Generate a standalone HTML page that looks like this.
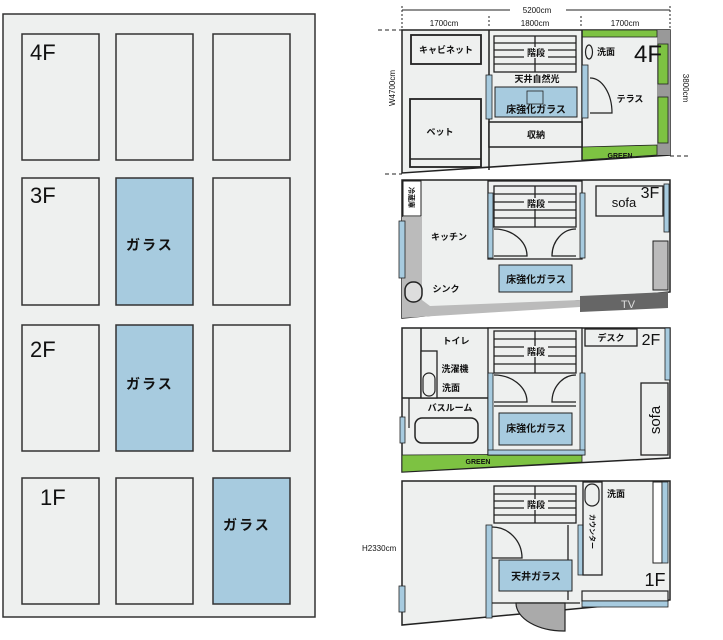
<!DOCTYPE html>
<html><head><meta charset="utf-8"><style>
html,body{margin:0;padding:0;background:#fff;}
svg{display:block;}
text{font-family:"Liberation Sans","Noto Sans CJK JP",sans-serif;fill:#111;}
.j{font-size:9px;font-weight:bold;}
.f{font-size:22px;font-weight:500;}
</style></head><body>
<svg width="723" height="640" viewBox="0 0 723 640" xmlns="http://www.w3.org/2000/svg">
<!-- LEFT PANEL -->
<rect x="3" y="14" width="312" height="603" fill="#eef0ef" stroke="#333" stroke-width="1.5"/>
<g stroke="#333" stroke-width="1.5" fill="#eef0ef">
<rect x="22" y="34" width="77" height="126"/><rect x="116" y="34" width="77" height="126"/><rect x="213" y="34" width="77" height="126"/>
<rect x="22" y="178" width="77" height="127"/><rect x="116" y="178" width="77" height="127" fill="#a7cbdf"/><rect x="213" y="178" width="77" height="127"/>
<rect x="22" y="325" width="77" height="126"/><rect x="116" y="325" width="77" height="126" fill="#a7cbdf"/><rect x="213" y="325" width="77" height="126"/>
<rect x="22" y="478" width="77" height="126"/><rect x="116" y="478" width="77" height="126"/><rect x="213" y="478" width="77" height="126" fill="#a7cbdf"/>
</g>
<text x="30" y="60" class="f">4F</text><text x="30" y="203" class="f">3F</text><text x="30" y="357" class="f">2F</text><text x="40" y="505" class="f">1F</text>
<text x="126" y="250" style="font-size:14px;font-weight:bold;letter-spacing:2px">ガラス</text>
<text x="126" y="389" style="font-size:14px;font-weight:bold;letter-spacing:2px">ガラス</text>
<text x="223" y="530" style="font-size:14px;font-weight:bold;letter-spacing:2px">ガラス</text>

<!-- DIMENSIONS -->
<g stroke="#222" stroke-width="1">
<line x1="402" y1="10" x2="510" y2="10"/><line x1="566" y1="10" x2="670" y2="10"/>
<line x1="402" y1="6" x2="402" y2="28" stroke-dasharray="2,2"/><line x1="489" y1="16" x2="489" y2="28" stroke-dasharray="2,2"/>
<line x1="581" y1="16" x2="581" y2="28" stroke-dasharray="2,2"/><line x1="670" y1="6" x2="670" y2="28" stroke-dasharray="2,2"/>
<line x1="378" y1="30" x2="402" y2="30" stroke-dasharray="4,3"/>
<line x1="670" y1="156" x2="690" y2="156" stroke-dasharray="4,3"/>
<line x1="385" y1="174" x2="402" y2="174" stroke-dasharray="4,3"/>
</g>
<text x="537" y="13" text-anchor="middle" style="font-size:8px">5200cm</text>
<text x="444" y="26" text-anchor="middle" style="font-size:8px">1700cm</text>
<text x="535" y="26" text-anchor="middle" style="font-size:8px">1800cm</text>
<text x="625" y="26" text-anchor="middle" style="font-size:8px">1700cm</text>
<text transform="translate(395,88) rotate(-90)" text-anchor="middle" style="font-size:8px">W4700cm</text>
<text transform="translate(683,88) rotate(90)" text-anchor="middle" style="font-size:8px">3800cm</text>
<text x="362" y="551" style="font-size:8px">H2330cm</text>

<!-- 4F -->
<polygon points="402,30 670,30 670,155 402,173" fill="#eef0ef" stroke="#222" stroke-width="1.5"/>
<rect x="657" y="30" width="13" height="125" fill="#999"/>
<rect x="658" y="44" width="10" height="40" fill="#7dc242" stroke="#222" stroke-width="0.8"/>
<rect x="658" y="97" width="10" height="46" fill="#7dc242" stroke="#222" stroke-width="0.8"/>
<rect x="582" y="30" width="75" height="7" fill="#7dc242" stroke="#222" stroke-width="0.8"/>
<polygon points="582,147 657,145 657,155 582,160" fill="#7dc242" stroke="#222" stroke-width="0.8"/>
<text x="620" y="158" text-anchor="middle" style="font-size:7px;font-weight:bold">GREEN</text>
<line x1="489" y1="30" x2="489" y2="170" stroke="#222" stroke-width="1.5"/>
<line x1="582" y1="30" x2="582" y2="160" stroke="#222" stroke-width="1.5"/>
<rect x="411" y="35" width="70" height="29" fill="#eef0ef" stroke="#222" stroke-width="1.8"/>
<text x="446" y="53" text-anchor="middle" class="j">キャビネット</text>
<rect x="410" y="99" width="71" height="68" fill="#eef0ef" stroke="#222" stroke-width="1.8"/>
<line x1="410" y1="159" x2="481" y2="159" stroke="#222" stroke-width="1.5"/>
<text x="440" y="135" text-anchor="middle" class="j">ベット</text>
<g stroke="#222" stroke-width="1.3" fill="none">
<rect x="494" y="36" width="82" height="36"/>
<line x1="494" y1="43" x2="576" y2="43"/><line x1="494" y1="50" x2="576" y2="50"/><line x1="494" y1="57" x2="576" y2="57"/><line x1="494" y1="64" x2="576" y2="64"/>
<line x1="535" y1="36" x2="535" y2="72"/>
</g>
<rect x="524" y="47" width="24" height="11" fill="#eef0ef"/>
<text x="536" y="56" text-anchor="middle" class="j">階段</text>
<text x="537" y="82" text-anchor="middle" class="j">天井自然光</text>
<rect x="486" y="75" width="6" height="44" fill="#a7cbdf" stroke="#222" stroke-width="0.8"/>
<rect x="582" y="65" width="6" height="53" fill="#a7cbdf" stroke="#222" stroke-width="0.8"/>
<rect x="495" y="87" width="82" height="30" fill="#a7cbdf" stroke="#222" stroke-width="1"/>
<rect x="527" y="91" width="16" height="13" fill="#a7cbdf" stroke="#222" stroke-width="0.8"/>
<text x="536" y="113" text-anchor="middle" style="font-size:10px;font-weight:bold">床強化ガラス</text>
<rect x="489" y="122" width="93" height="25" fill="#eef0ef" stroke="#222" stroke-width="1.5"/>
<text x="536" y="138" text-anchor="middle" class="j">収納</text>
<ellipse cx="589" cy="52" rx="3.5" ry="7" fill="none" stroke="#222" stroke-width="1.2"/>
<text x="606" y="55" text-anchor="middle" class="j">洗面</text>
<text x="648" y="62" text-anchor="middle" style="font-size:24px">4F</text>
<path d="M590,78 A22,35 0 0 1 612,113 L590,113" fill="none" stroke="#222" stroke-width="1.2"/>
<text x="630" y="102" text-anchor="middle" class="j">テラス</text>

<!-- 3F -->
<polygon points="402,180 670,180 670,292 402,318" fill="#eef0ef" stroke="#222" stroke-width="1.5"/>
<polygon points="402,217 422,217 422,300 430,306 580,300 580,307 402,318" fill="#bbb"/>
<polygon points="580,296 668,292 668,308 580,312" fill="#666"/>
<text x="628" y="308" text-anchor="middle" style="font-size:11px;fill:#ddd">TV</text>
<rect x="403" y="181" width="18" height="35" fill="#fff" stroke="#222" stroke-width="1"/>
<text transform="translate(409,187) rotate(90)" style="font-size:7px;font-weight:bold">冷蔵庫</text>
<rect x="399" y="221" width="6" height="57" fill="#a7cbdf" stroke="#222" stroke-width="0.8"/>
<rect x="405" y="282" width="17" height="20" rx="8" fill="#ddd" stroke="#222" stroke-width="1.5"/>
<rect x="653" y="241" width="15" height="49" fill="#bbb" stroke="#222" stroke-width="1"/>
<rect x="664" y="184" width="5" height="48" fill="#a7cbdf" stroke="#222" stroke-width="0.8"/>
<text x="449" y="240" text-anchor="middle" class="j">キッチン</text>
<text x="446" y="292" text-anchor="middle" class="j">シンク</text>
<rect x="488" y="181" width="94" height="78" fill="#eef0ef" stroke="#222" stroke-width="1.3"/>
<rect x="488" y="193" width="5" height="65" fill="#a7cbdf" stroke="#222" stroke-width="0.8"/>
<rect x="580" y="193" width="5" height="65" fill="#a7cbdf" stroke="#222" stroke-width="0.8"/>
<g stroke="#222" stroke-width="1.3" fill="none">
<rect x="494" y="186" width="82" height="41"/>
<line x1="494" y1="194" x2="576" y2="194"/><line x1="494" y1="202" x2="576" y2="202"/><line x1="494" y1="210" x2="576" y2="210"/><line x1="494" y1="218" x2="576" y2="218"/>
<line x1="535" y1="186" x2="535" y2="227"/>
<path d="M494,229 A33,27 0 0 1 527,256 L494,256"/>
<path d="M576,229 A24,27 0 0 0 552,256 L576,256"/>
</g>
<rect x="524" y="198" width="24" height="11" fill="#eef0ef"/>
<text x="536" y="207" text-anchor="middle" class="j">階段</text>
<rect x="499" y="265" width="73" height="27" fill="#a7cbdf" stroke="#222" stroke-width="1"/>
<text x="536" y="283" text-anchor="middle" style="font-size:10px;font-weight:bold">床強化ガラス</text>
<rect x="596" y="186" width="67" height="30" fill="#eef0ef" stroke="#222" stroke-width="1.3"/>
<text x="624" y="207" text-anchor="middle" style="font-size:13px">sofa</text>
<text x="650" y="198" text-anchor="middle" style="font-size:16px">3F</text>

<!-- 2F -->
<polygon points="402,328 670,328 670,458 402,472" fill="#eef0ef" stroke="#222" stroke-width="1.5"/>
<polygon points="402,455 582,454 582,462 402,472" fill="#7dc242" stroke="#222" stroke-width="0.8"/>
<text x="478" y="464" text-anchor="middle" style="font-size:7px;font-weight:bold">GREEN</text>
<line x1="421" y1="328" x2="421" y2="398" stroke="#222" stroke-width="1.5"/>
<line x1="402" y1="398" x2="488" y2="398" stroke="#222" stroke-width="1.5"/>
<rect x="421" y="351" width="16" height="47" fill="#eef0ef" stroke="#222" stroke-width="1.3"/>
<rect x="423" y="373" width="12" height="23" rx="6" fill="#eef0ef" stroke="#222" stroke-width="1.2"/>
<text x="456" y="344" text-anchor="middle" class="j">トイレ</text>
<text x="455" y="372" text-anchor="middle" class="j">洗濯機</text>
<text x="451" y="391" text-anchor="middle" class="j">洗面</text>
<text x="450" y="411" text-anchor="middle" class="j">バスルーム</text>
<line x1="409" y1="398" x2="409" y2="428" stroke="#222" stroke-width="1.2"/>
<rect x="415" y="418" width="63" height="25" rx="7" fill="#eef0ef" stroke="#222" stroke-width="1.5"/>
<rect x="400" y="417" width="5" height="26" fill="#a7cbdf" stroke="#222" stroke-width="0.8"/>
<rect x="488" y="328" width="94" height="127" fill="#eef0ef" stroke="#222" stroke-width="1.3"/>
<rect x="488" y="373" width="5" height="82" fill="#a7cbdf" stroke="#222" stroke-width="0.8"/>
<rect x="580" y="373" width="5" height="82" fill="#a7cbdf" stroke="#222" stroke-width="0.8"/>
<rect x="488" y="450" width="97" height="5" fill="#a7cbdf" stroke="#222" stroke-width="0.8"/>
<g stroke="#222" stroke-width="1.3" fill="none">
<rect x="494" y="331" width="82" height="42"/>
<line x1="494" y1="339" x2="576" y2="339"/><line x1="494" y1="347" x2="576" y2="347"/><line x1="494" y1="356" x2="576" y2="356"/><line x1="494" y1="364" x2="576" y2="364"/>
<line x1="535" y1="331" x2="535" y2="373"/>
<path d="M494,375 A33,27 0 0 1 527,402 L494,402"/>
<path d="M576,375 A24,27 0 0 0 552,402 L576,402"/>
<line x1="494" y1="406" x2="576" y2="406"/>
</g>
<rect x="524" y="346" width="24" height="11" fill="#eef0ef"/>
<text x="536" y="355" text-anchor="middle" class="j">階段</text>
<rect x="499" y="413" width="73" height="32" fill="#a7cbdf" stroke="#222" stroke-width="1"/>
<text x="536" y="432" text-anchor="middle" style="font-size:10px;font-weight:bold">床強化ガラス</text>
<rect x="585" y="329" width="52" height="17" fill="#eef0ef" stroke="#222" stroke-width="1.3"/>
<text x="611" y="341" text-anchor="middle" class="j">デスク</text>
<text x="651" y="345" text-anchor="middle" style="font-size:16px">2F</text>
<rect x="665" y="328" width="5" height="52" fill="#a7cbdf" stroke="#222" stroke-width="0.8"/>
<rect x="641" y="383" width="27" height="72" fill="#eef0ef" stroke="#222" stroke-width="1.3"/>
<text transform="translate(660,420) rotate(-90)" text-anchor="middle" style="font-size:15px">sofa</text>

<!-- 1F -->
<polygon points="402,481 670,481 670,600 402,625" fill="#eef0ef" stroke="#222" stroke-width="1.5"/>
<rect x="399" y="586" width="6" height="26" fill="#a7cbdf" stroke="#222" stroke-width="0.8"/>
<g stroke="#222" stroke-width="1.3" fill="none">
<rect x="494" y="486" width="82" height="37"/>
<line x1="494" y1="494" x2="576" y2="494"/><line x1="494" y1="501" x2="576" y2="501"/><line x1="494" y1="508" x2="576" y2="508"/><line x1="494" y1="515" x2="576" y2="515"/>
<line x1="535" y1="486" x2="535" y2="523"/>
<path d="M492,527 A30,31 0 0 1 522,558 L492,558"/>
<line x1="568" y1="525" x2="568" y2="600"/>
<line x1="492" y1="603" x2="580" y2="603"/>
</g>
<rect x="524" y="499" width="24" height="11" fill="#eef0ef"/>
<text x="536" y="508" text-anchor="middle" class="j">階段</text>
<rect x="486" y="525" width="6" height="93" fill="#a7cbdf" stroke="#222" stroke-width="0.8"/>
<rect x="499" y="560" width="73" height="31" fill="#a7cbdf" stroke="#222" stroke-width="1"/>
<text x="536" y="580" text-anchor="middle" style="font-size:10px;font-weight:bold">天井ガラス</text>
<rect x="578" y="525" width="5" height="50" fill="#a7cbdf" stroke="#222" stroke-width="0.8"/>
<rect x="583" y="482" width="19" height="93" fill="#eef0ef" stroke="#222" stroke-width="1.3"/>
<rect x="585" y="484" width="14" height="22" rx="7" fill="#eef0ef" stroke="#222" stroke-width="1.2"/>
<text transform="translate(590,514) rotate(90)" style="font-size:7px;font-weight:bold">カウンター</text>
<text x="616" y="497" text-anchor="middle" class="j">洗面</text>
<rect x="653" y="482" width="9" height="81" fill="#fff" stroke="#222" stroke-width="1"/>
<rect x="662" y="482" width="6" height="81" fill="#a7cbdf" stroke="#222" stroke-width="0.8"/>
<text x="655" y="586" text-anchor="middle" style="font-size:18px">1F</text>
<rect x="582" y="591" width="86" height="10" fill="#eef0ef" stroke="#222" stroke-width="1.2"/>
<rect x="582" y="601" width="86" height="6" fill="#a7cbdf" stroke="#222" stroke-width="0.8"/>
<path d="M516,603 A48,28 0 0 0 565,631 L565,603 Z" fill="#aaa" stroke="#222" stroke-width="1.2"/>
</svg>
</body></html>
